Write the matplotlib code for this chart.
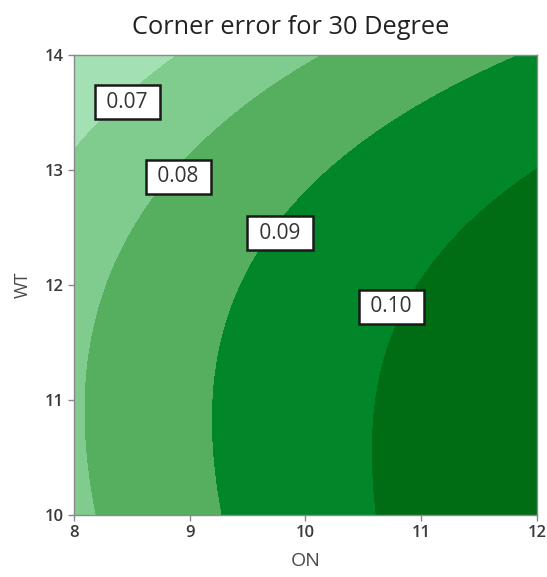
import numpy as np
import matplotlib
matplotlib.use("Agg")
import matplotlib.pyplot as plt

# Fitted cubic response surface for corner error, in coded units (ON - 10, WT - 12)
terms = ["1", "x", "y", "x2", "y2", "xy", "x3", "x2y", "xy2", "y3"]
coef = [0.0940075, 0.00675622, -0.00348198, -0.000664205, -0.00167246,
        -6.633e-05, 8.33565e-05, -6.35292e-05, 0.000131096, -0.000171188]

levels = [0.07, 0.08, 0.09, 0.10]
level_labels = ["0.07", "0.08", "0.09", "0.10"]
label_on = [8.46, 8.90, 9.78, 10.74]
label_wt = [13.59, 12.94, 12.45, 11.81]

fill_colors = ["#a3e0b3", "#80cb8e", "#55af5e", "#01872a", "#006c14"]


def surface(on, wt):
    x = on - 10
    y = wt - 12
    cols = [np.ones_like(x), x, y, x**2, y**2, x*y, x**3, x**2*y, x*y**2, y**3]
    return sum(c * t for c, t in zip(coef, cols))


plt.rcParams['font.family'] = ['Open Sans', 'DejaVu Sans']

fig = plt.figure(figsize=(5.47, 5.77), dpi=100)
ax = fig.add_axes([0.1353, 0.1075, 0.8464, 0.7972])

on = np.linspace(8, 12, 300)
wt = np.linspace(10, 14, 300)
ON, WT = np.meshgrid(on, wt)
Z = surface(ON, WT)

ax.contourf(ON, WT, Z, levels=[-1] + levels + [1], colors=fill_colors)

# boxed level labels sitting on the contour boundaries
for lab, xo, yo in zip(level_labels, label_on, label_wt):
    ax.text(xo, yo, ' ' + lab + ' ', ha='center', va='center', fontsize=15,
            color='#333333',
            bbox=dict(boxstyle='square,pad=0.32', facecolor='white',
                      edgecolor='#1a1a1a', linewidth=1.8))

ax.set_xlim(8, 12)
ax.set_ylim(10, 14)
ax.set_xticks([8, 9, 10, 11, 12])
ax.set_yticks([10, 11, 12, 13, 14])

for s in ax.spines.values():
    s.set_color('#8a8a8a')
    s.set_linewidth(1.0)
ax.tick_params(direction='out', length=4, width=1, color='#8a8a8a',
               labelsize=12, labelcolor='#3a3a3a', pad=3)
for t in ax.get_xticklabels() + ax.get_yticklabels():
    t.set_fontweight('semibold')

ax.set_xlabel('ON', fontsize=14, color='#4a4a4a', labelpad=8)
ax.set_ylabel('WT', fontsize=13, color='#4a4a4a', labelpad=10)
fig.text(291 / 547, 1 - 27 / 577, 'Corner error for 30 Degree',
         ha='center', va='center', fontsize=18.3, color='#222222')

fig.savefig('out.png', dpi=100)
